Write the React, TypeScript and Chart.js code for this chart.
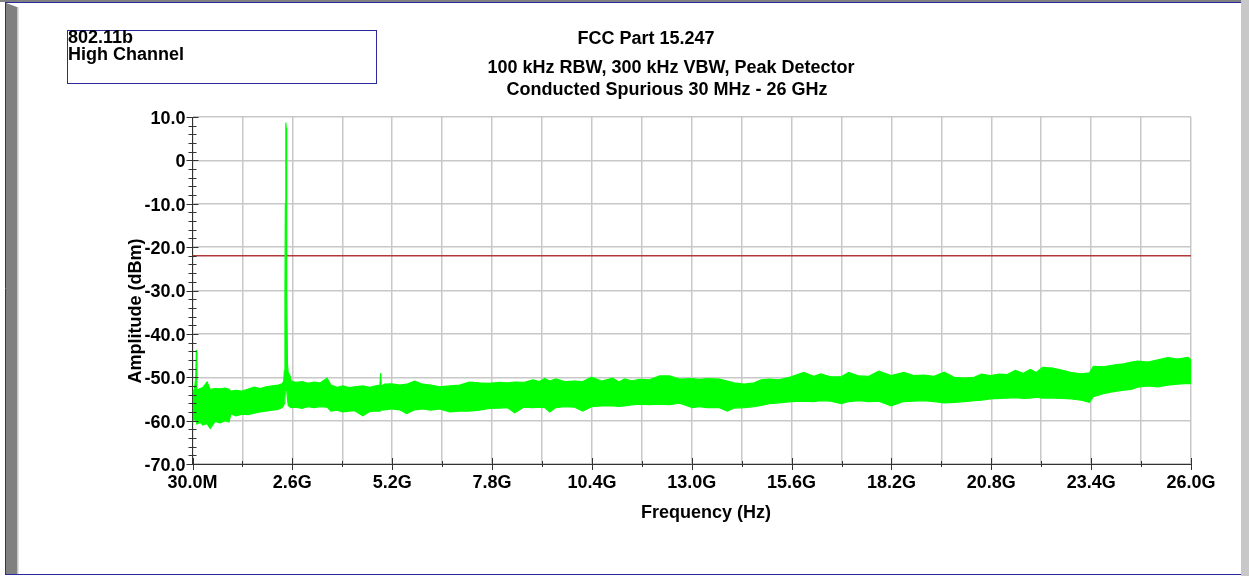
import React, { useEffect, useRef } from "react";
import { Chart, registerables } from "chart.js";

Chart.register(...registerables);

// ---- data ----
const freqMHz = [
  30, 80, 115, 130, 145, 230, 300, 410, 490, 620,
  750, 880, 980, 1030, 1160, 1320, 1480, 1630, 1790, 1940,
  2100, 2260, 2360, 2400, 2420, 2435, 2445, 2455, 2460, 2466,
  2474, 2485, 2500, 2520, 2560, 2590, 2720, 2880, 3030, 3190,
  3350, 3530, 3630, 3790, 3940, 4100, 4250, 4460, 4640, 4800,
  4905, 4924, 4940, 5030, 5210, 5420, 5600, 5810, 6020, 6230,
  6460, 6720, 6980, 7230, 7490, 7750, 8010, 8220, 8410, 8640,
  8880, 9060, 9190, 9320, 9480, 9710, 9970, 10180, 10410, 10670,
  10960, 11120, 11270, 11450, 11660, 11920, 12180, 12440, 12700, 13030,
  13210, 13420, 13730, 13940, 14120, 14380, 14640, 14820, 15030, 15290,
  15600, 15930, 16190, 16370, 16630, 16900, 17100, 17360, 17620, 17880,
  18200, 18530, 18790, 19060, 19320, 19580, 19840, 20100, 20360, 20550,
  20780, 21020, 21220, 21430, 21640, 21820, 21980, 22140, 22400, 22660,
  22890, 23150, 23360, 23460, 23720, 23980, 24250, 24450, 24610, 24880,
  25140, 25400, 25650, 25920, 26000,
];

const upperDbm = [
  -53.5, -52.8, -50.0, -43.7, -53.0, -52.6, -52.4, -51.1, -52.8, -52.6,
  -52.7, -52.5, -52.8, -53.2, -53.0, -53.2, -52.7, -52.3, -52.6, -52.2,
  -52.0, -51.8, -51.5, -51.0, -48.5, -30.0, -10.0, 5.0, 8.7, 7.5,
  -8.0, -30.0, -47.0, -49.0, -49.5, -50.8, -51.2, -51.0, -51.4, -51.1,
  -51.3, -50.2, -51.8, -52.3, -52.0, -52.4, -52.2, -52.0, -52.3, -52.0,
  -51.8, -49.0, -52.0, -51.6, -51.5, -51.8, -51.6, -50.9, -51.6, -51.8,
  -52.2, -52.0, -51.8, -51.1, -51.3, -51.4, -51.2, -51.3, -51.1, -51.2,
  -50.6, -51.0, -50.3, -50.9, -50.4, -51.0, -50.9, -51.0, -50.0, -50.9,
  -50.2, -51.1, -50.4, -50.8, -50.5, -50.6, -49.7, -49.7, -50.4, -50.3,
  -50.5, -50.3, -50.4, -50.9, -51.3, -51.6, -51.3, -50.6, -50.4, -50.6,
  -49.9, -48.9, -49.8, -49.2, -49.9, -49.9, -48.9, -49.7, -49.8, -48.6,
  -49.6, -48.9, -49.6, -49.5, -49.8, -48.8, -50.0, -50.2, -50.0, -49.3,
  -49.6, -49.3, -49.4, -48.4, -49.1, -48.2, -48.9, -47.7, -47.9, -48.4,
  -48.9, -49.2, -49.0, -47.5, -47.6, -47.2, -46.9, -46.5, -46.3, -46.5,
  -46.0, -45.5, -45.8, -45.4, -46.0,
];

const lowerDbm = [
  -60.5, -59.5, -60.0, -60.0, -60.8, -60.4, -61.0, -60.7, -61.8, -60.2,
  -60.5, -60.0, -60.3, -58.4, -58.9, -58.5, -58.6, -58.3, -58.0, -57.8,
  -57.6, -57.4, -57.0, -56.5, -56.0, -54.0, -53.0, -52.0, -51.0, -51.0,
  -52.0, -53.0, -55.0, -56.5, -56.8, -57.0, -56.9, -57.2, -56.8, -57.0,
  -56.8, -56.9, -57.8, -57.6, -58.0, -57.8, -57.7, -58.9, -57.9, -57.8,
  -57.8, -57.5, -57.6, -57.5, -57.3, -57.5, -58.4, -57.5, -57.3, -57.6,
  -57.3, -58.0, -57.8, -57.8, -57.6, -57.2, -57.1, -57.0, -58.2, -56.9,
  -57.0, -56.9, -57.0, -58.0, -57.0, -56.8, -56.9, -57.8, -56.8, -56.6,
  -56.6, -56.7, -56.6, -56.4, -56.2, -56.3, -56.2, -56.3, -56.0, -57.0,
  -56.8, -57.0, -57.0, -57.8, -57.1, -57.0, -56.8, -56.5, -56.1, -55.9,
  -55.6, -55.5, -55.6, -55.4, -55.5, -56.1, -55.6, -55.4, -55.6, -55.5,
  -56.6, -55.6, -55.5, -55.4, -55.6, -55.9, -55.8, -55.6, -55.4, -55.3,
  -55.0, -54.9, -54.8, -54.7, -54.9, -54.8, -54.6, -54.8, -54.8, -54.9,
  -55.0, -55.3, -55.8, -54.5, -53.8, -53.3, -53.0, -52.8, -52.3, -52.0,
  -52.2, -51.8, -51.6, -51.4, -51.5,
];

const limitDbm = -22;

const xMajorTicksMHz = [30, 2627, 5224, 7821, 10418, 13015, 15612, 18209, 20806, 23403, 26000];
const xTickLabels = ["30.0M", "2.6G", "5.2G", "7.8G", "10.4G", "13.0G", "15.6G", "18.2G", "20.8G", "23.4G", "26.0G"];
const yMajorTicks = [10, 0, -10, -20, -30, -40, -50, -60, -70];
const yTickLabels = ["10.0", "0", "-10.0", "-20.0", "-30.0", "-40.0", "-50.0", "-60.0", "-70.0"];

const titleLines = [
  "FCC Part 15.247",
  "100 kHz RBW, 300 kHz VBW, Peak Detector",
  "Conducted Spurious 30 MHz - 26 GHz",
];
const noteLines = ["802.11b", "High Channel"];
const xAxisTitle = "Frequency (Hz)";
const yAxisTitle = "Amplitude (dBm)";

const FAMILY = '"Liberation Sans", Arial, Helvetica, sans-serif';
const BOLD = `bold 18px ${FAMILY}`;
const NAVY = "#2a2a9c";
const GRID = "#c8c8c8";
const TICK = "#333333";

const decorPlugin = {
  id: "decor",
  beforeDraw(chart: any) {
    const { ctx, width, height } = chart;
    ctx.save();
    ctx.fillStyle = "#ffffff";
    ctx.fillRect(0, 0, width, height);
    // outer frame
    ctx.fillStyle = "#808080";
    ctx.fillRect(0, 0, width, 2);
    ctx.beginPath();
    ctx.moveTo(6, 3);
    ctx.lineTo(17, 7);
    ctx.lineTo(17, 574);
    ctx.lineTo(6, 574);
    ctx.closePath();
    ctx.fill();
    ctx.fillStyle = "#c4c4c4";
    ctx.fillRect(17, 7, 1.5, 567);
    ctx.fillStyle = "#c8c8c8";
    ctx.fillRect(1241, 0, width - 1241, height);
    ctx.strokeStyle = NAVY;
    ctx.lineWidth = 1;
    ctx.beginPath();
    ctx.moveTo(5, 2.5);
    ctx.lineTo(1241, 2.5);
    ctx.moveTo(5.5, 2);
    ctx.lineTo(5.5, 575);
    ctx.moveTo(5, 574.5);
    ctx.lineTo(1241, 574.5);
    ctx.stroke();
    ctx.restore();
  },
  afterDraw(chart: any) {
    const { ctx, chartArea } = chart;
    const xs = chart.scales.x;
    const ys = chart.scales.y;
    ctx.save();
    // tick marks crossing the axes
    ctx.strokeStyle = TICK;
    ctx.lineWidth = 1;
    ctx.beginPath();
    xs.ticks.forEach((t: any, i: number) => {
      const px = Math.round(xs.getPixelForValue(t.value)) + 0.5;
      const len = i % 2 === 0 ? 6 : 3;
      ctx.moveTo(px, chartArea.bottom - len);
      ctx.lineTo(px, chartArea.bottom + len);
    });
    ys.ticks.forEach((t: any) => {
      const py = Math.round(ys.getPixelForValue(t.value)) + 0.5;
      const len = t.value % 10 === 0 ? 6 : 4;
      ctx.moveTo(chartArea.left - len, py);
      ctx.lineTo(chartArea.left + len, py);
    });
    ctx.stroke();

    // note box
    ctx.strokeStyle = NAVY;
    ctx.strokeRect(67.5, 30.5, 309, 53);
    ctx.fillStyle = "#000000";
    ctx.font = BOLD;
    ctx.textAlign = "left";
    ctx.textBaseline = "alphabetic";
    ctx.fillText(noteLines[0], 68, 43);
    ctx.fillText(noteLines[1], 68, 60);

    // titles
    ctx.textAlign = "center";
    ctx.fillText(titleLines[0], 646, 44);
    ctx.fillText(titleLines[1], 671, 73);
    ctx.fillText(titleLines[2], 667, 95);

    // axis titles
    ctx.fillText(xAxisTitle, 706, 518);
    ctx.translate(141, 311);
    ctx.rotate(-Math.PI / 2);
    ctx.fillText(yAxisTitle, 0, 0);
    ctx.restore();
  },
};

export default function App() {
  const canvasRef = useRef<HTMLCanvasElement | null>(null);

  useEffect(() => {
    const canvas = canvasRef.current;
    if (!canvas) return;
    const upperPts = freqMHz.map((f, i) => ({ x: f, y: upperDbm[i] }));
    const lowerPts = freqMHz.map((f, i) => ({ x: f, y: lowerDbm[i] }));
    const xMin = xMajorTicksMHz[0];
    const xMax = xMajorTicksMHz[xMajorTicksMHz.length - 1];
    const allXTicks: number[] = [];
    xMajorTicksMHz.forEach((v, i) => {
      allXTicks.push(v);
      if (i < xMajorTicksMHz.length - 1) allXTicks.push((v + xMajorTicksMHz[i + 1]) / 2);
    });
    const tickFont = { family: FAMILY, size: 18, weight: "bold" as const };

    const chart = new Chart(canvas, {
      type: "line",
      data: {
        datasets: [
          {
            label: "Peak upper",
            data: upperPts,
            borderColor: "#00ff00",
            backgroundColor: "#00ff00",
            borderWidth: 1.2,
            pointRadius: 0,
            tension: 0,
            fill: "+1",
            order: 0,
          },
          {
            label: "Peak lower",
            data: lowerPts,
            borderColor: "#00ff00",
            backgroundColor: "#00ff00",
            borderWidth: 1.2,
            pointRadius: 0,
            tension: 0,
            fill: false,
            order: 0,
          },
          {
            label: "Limit",
            data: [
              { x: xMin, y: limitDbm },
              { x: xMax, y: limitDbm },
            ],
            borderColor: "#b03a3a",
            borderWidth: 1.5,
            pointRadius: 0,
            fill: false,
            order: 1,
          },
        ],
      },
      options: {
        animation: false,
        responsive: false,
        devicePixelRatio: 1,
        layout: { padding: { left: 0, right: 58, top: 117, bottom: 0 } },
        plugins: {
          legend: { display: false },
          title: { display: false },
          tooltip: { enabled: false },
        },
        scales: {
          x: {
            type: "linear",
            min: xMin,
            max: xMax,
            afterBuildTicks: (scale: any) => {
              scale.ticks = allXTicks.map((v) => ({ value: v }));
            },
            afterFit: (scale: any) => {
              scale.height = 112;
            },
            ticks: {
              autoSkip: false,
              maxRotation: 0,
              minRotation: 0,
              padding: 2,
              color: "#000000",
              font: tickFont,
              callback: (_v: any, index: number) => (index % 2 === 0 ? xTickLabels[index / 2] : ""),
            },
            grid: {
              color: GRID,
              lineWidth: 1.5,
              tickLength: 6,
              tickColor: "transparent",
            },
            border: { color: TICK, width: 1 },
          },
          y: {
            type: "linear",
            min: -70,
            max: 10,
            afterBuildTicks: (scale: any) => {
              const t: { value: number }[] = [];
              for (let v = 10; v >= -70; v -= 2) t.push({ value: v });
              scale.ticks = t.reverse();
            },
            afterFit: (scale: any) => {
              scale.width = 192.5;
            },
            ticks: {
              autoSkip: false,
              padding: 1,
              labelOffset: 2,
              color: "#000000",
              font: tickFont,
              callback: (v: any) => {
                const idx = yMajorTicks.indexOf(Number(v));
                return idx >= 0 ? yTickLabels[idx] : "";
              },
            },
            grid: {
              color: (c: any) => (c.tick && c.tick.value % 10 === 0 ? GRID : "transparent"),
              lineWidth: 1.5,
              tickLength: 6,
              tickColor: "transparent",
            },
            border: { color: TICK, width: 1 },
          },
        },
      },
      plugins: [decorPlugin],
    } as any);

    return () => chart.destroy();
  }, []);

  return (
    <div style={{ position: "absolute", left: 0, top: 0, width: 1249, height: 576, background: "#ffffff" }}>
      <canvas ref={canvasRef} width={1249} height={576} style={{ display: "block", width: 1249, height: 576 }} />
    </div>
  );
}
